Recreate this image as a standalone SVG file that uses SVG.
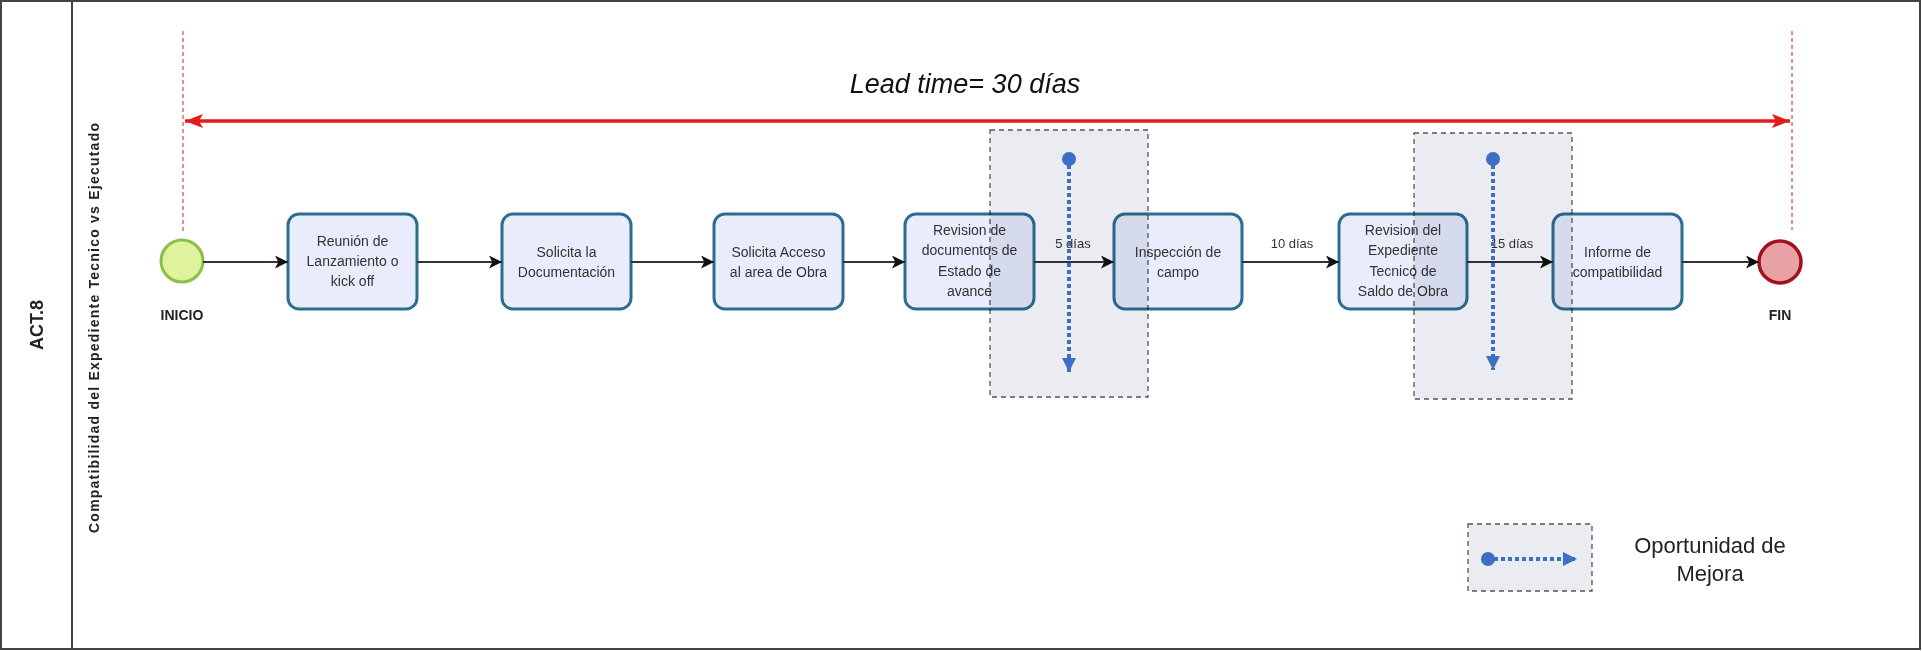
<svg xmlns="http://www.w3.org/2000/svg" width="1922" height="651" viewBox="0 0 1922 651">
<style>
.box{fill:#e9ecfa;stroke:#2c6e8f;stroke-width:3}
.t{font-family:"Liberation Sans",Arial,sans-serif;font-size:14px;fill:#333;text-anchor:middle}
.lbl{font-family:"Liberation Sans",Arial,sans-serif;font-size:13px;fill:#333;text-anchor:middle}
.b{font-family:"Liberation Sans",Arial,sans-serif;font-weight:bold;fill:#222;text-anchor:middle}
.flow{stroke:#333;stroke-width:2;fill:none;marker-end:url(#ah)}
.opp{fill:#eaecf2;stroke:#555;stroke-width:1.3;stroke-dasharray:5,4;mix-blend-mode:multiply}
.dot{stroke:#3f6fc4;stroke-width:4;stroke-dasharray:4,3;fill:none;marker-end:url(#bh)}
.redd{stroke:#e31b1b;stroke-width:1;stroke-dasharray:4,3}
</style>
<defs>
<marker id="ah" viewBox="0 0 12 12" refX="12" refY="6" markerWidth="13" markerHeight="13" markerUnits="userSpaceOnUse" orient="auto"><path d="M0,0 L12,6 L0,12 L3,6 Z" fill="#111"/></marker>
<marker id="bh" viewBox="0 0 14 14" refX="14" refY="7" markerWidth="14" markerHeight="14" markerUnits="userSpaceOnUse" orient="auto"><path d="M0,0 L14,7 L0,14 Z" fill="#3f6fc4"/></marker>
<marker id="rh" viewBox="0 0 18 14" refX="18" refY="7" markerWidth="18" markerHeight="14" markerUnits="userSpaceOnUse" orient="auto-start-reverse"><path d="M0,0 L18,7 L0,14 L4,7 Z" fill="#e31b1b"/></marker>
</defs>
<rect x="0" y="0" width="1922" height="651" fill="#fff"/>
<rect x="1" y="1" width="1919" height="648" fill="none" stroke="#444" stroke-width="2"/>
<line x1="72" y1="1" x2="72" y2="649" stroke="#444" stroke-width="2"/>
<g id="pool-label"><text class="b" font-size="18" transform="translate(43,325) rotate(-90)">ACT.8</text></g>
<g id="lane-label"><text class="b" font-size="14" textLength="410" lengthAdjust="spacing" transform="translate(99,328) rotate(-90)">Compatibilidad del Expediente Tecnico vs Ejecutado</text></g>
<g id="leadtime">
<line class="redd" x1="183" y1="31" x2="183" y2="232"/>
<line class="redd" x1="1792" y1="31" x2="1792" y2="230"/>
<line x1="185" y1="121" x2="1790" y2="121" stroke="#e31b1b" stroke-width="3.5" marker-start="url(#rh)" marker-end="url(#rh)"/>
<text x="965" y="93" font-family="Liberation Sans,Arial,sans-serif" font-style="italic" font-size="27" fill="#111" text-anchor="middle">Lead time= 30 días</text>
</g>
<g id="inicio"><circle cx="182" cy="261" r="21" fill="#e0f29c" stroke="#8cbf4a" stroke-width="3"/><text class="b" font-size="14" x="182" y="320">INICIO</text></g>
<g id="fin"><circle cx="1780" cy="262" r="21" fill="#e8a2a6" stroke="#a3101e" stroke-width="3.5"/><text class="b" font-size="14" x="1780" y="320">FIN</text></g>
<g id="n1"><rect class="box" x="288" y="214" width="129" height="95" rx="11"/><text class="t" x="352.5" y="246">Reunión de</text><text class="t" x="352.5" y="266">Lanzamiento o</text><text class="t" x="352.5" y="286">kick off</text></g>
<g id="n2"><rect class="box" x="502" y="214" width="129" height="95" rx="11"/><text class="t" x="566.5" y="257">Solicita la</text><text class="t" x="566.5" y="277">Documentación</text></g>
<g id="n3"><rect class="box" x="714" y="214" width="129" height="95" rx="11"/><text class="t" x="778.5" y="257">Solicita Acceso</text><text class="t" x="778.5" y="277">al area de Obra</text></g>
<g id="n4"><rect class="box" x="905" y="214" width="129" height="95" rx="11"/><text class="t" x="969.5" y="235">Revision de</text><text class="t" x="969.5" y="255">documentos de</text><text class="t" x="969.5" y="276">Estado de</text><text class="t" x="969.5" y="296">avance</text></g>
<g id="n5"><rect class="box" x="1114" y="214" width="128" height="95" rx="11"/><text class="t" x="1178" y="257">Inspección de</text><text class="t" x="1178" y="277">campo</text></g>
<g id="n6"><rect class="box" x="1339" y="214" width="128" height="95" rx="11"/><text class="t" x="1403" y="235">Revision del</text><text class="t" x="1403" y="255">Expediente</text><text class="t" x="1403" y="276">Tecnico de</text><text class="t" x="1403" y="296">Saldo de Obra</text></g>
<g id="n7"><rect class="box" x="1553" y="214" width="129" height="95" rx="11"/><text class="t" x="1617.5" y="257">Informe de</text><text class="t" x="1617.5" y="277">compatibilidad</text></g>
<g id="connectors">
<line class="flow" x1="203" y1="262" x2="288" y2="262"/>
<line class="flow" x1="417" y1="262" x2="502" y2="262"/>
<line class="flow" x1="631" y1="262" x2="714" y2="262"/>
<line class="flow" x1="843" y1="262" x2="905" y2="262"/>
<line class="flow" x1="1034" y1="262" x2="1114" y2="262"/>
<line class="flow" x1="1242" y1="262" x2="1339" y2="262"/>
<line class="flow" x1="1467" y1="262" x2="1553" y2="262"/>
<line class="flow" x1="1682" y1="262" x2="1759" y2="262"/>
<text class="lbl" x="1073" y="248">5 días</text>
<text class="lbl" x="1292" y="248">10 días</text>
<text class="lbl" x="1512" y="248">15 días</text>
</g>
<g id="opp1"><rect class="opp" x="990" y="130" width="158" height="267"/><circle cx="1069" cy="159" r="7" fill="#3f6fc4"/><line class="dot" x1="1069" y1="165" x2="1069" y2="372"/></g>
<g id="opp2"><rect class="opp" x="1414" y="133" width="158" height="266"/><circle cx="1493" cy="159" r="7" fill="#3f6fc4"/><line class="dot" x1="1493" y1="165" x2="1493" y2="370"/></g>
<g id="legend"><rect class="opp" x="1468" y="524" width="124" height="67"/><circle cx="1488" cy="559" r="7" fill="#3f6fc4"/><line class="dot" x1="1494" y1="559" x2="1577" y2="559"/>
<text x="1710" y="553" font-family="Liberation Sans,Arial,sans-serif" font-size="22" fill="#222" text-anchor="middle">Oportunidad de</text>
<text x="1710" y="581" font-family="Liberation Sans,Arial,sans-serif" font-size="22" fill="#222" text-anchor="middle">Mejora</text></g>
</svg>
